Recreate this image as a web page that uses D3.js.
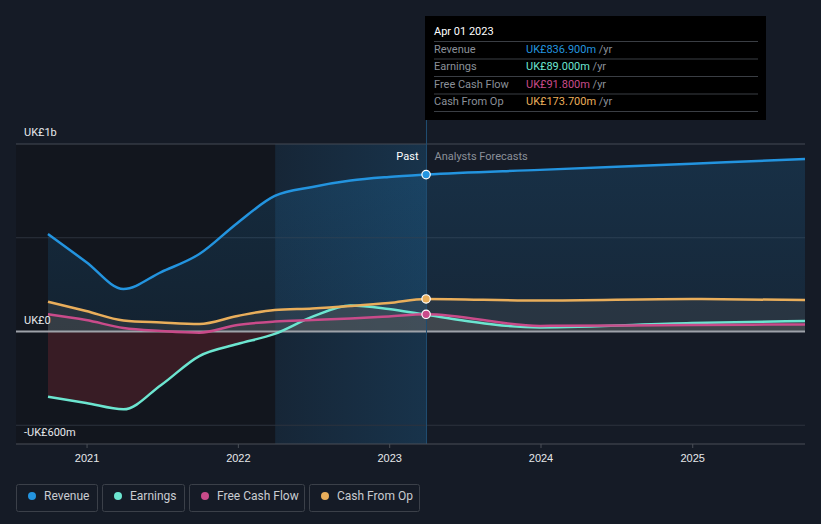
<!DOCTYPE html>
<html><head><meta charset="utf-8">
<script src="https://cdn.jsdelivr.net/npm/d3@7"></script>
<style>
html,body{margin:0;padding:0;background:#151b26;}
svg{display:block;font-family:Roboto,"Open Sans",sans-serif;}
</style></head>
<body><svg id="c" width="821" height="524"></svg>
<script>
// ---- data ----
const pastDates = ["2020-09-30","2020-12-31","2021-03-31","2021-06-30","2021-09-30","2021-12-31","2022-03-31","2022-06-30","2022-09-30","2022-12-31","2023-03-31"];
const forecastDates = ["2023-12-31","2024-12-31","2025-09-30"];
const revenuePast = [520,371,227,317,413,579,723,771,805,824,836.9];
const revenueFc = [862,895,920];
const earningsPast = [-348,-381,-415,-285,-131,-67,-13,79,139,120,89];
const earningsFc = [22,45,56];
const fcfPast = [92,61,19,3,-6,35,53,61,69,80,91.8];
const fcfFc = [30,35,38];
const cfoPast = [159,109,59,48,40,83,115,123,136,152,173.7];
const cfoFc = [165,173,168];
const yTickLabels = ["UK£1b","UK£0","-UK£600m"];
const yTickValues = [1000,0,-600];
const gridValues = [1000,500,0,-500];
const xTickYears = [2021,2022,2023,2024,2025];
const seriesNames = ["Revenue","Earnings","Free Cash Flow","Cash From Op"];
const seriesColors = ["#2394df","#6ce5d0","#c94b8a","#e9ae5b"];
const tooltipDate = "Apr 01 2023";
const tooltipValues = ["UK£836.900m","UK£89.000m","UK£91.800m","UK£173.700m"];

const parse = d3.timeParse("%Y-%m-%d");
const dates = pastDates.concat(forecastDates).map(parse);
const series = [revenuePast.concat(revenueFc), earningsPast.concat(earningsFc), fcfPast.concat(fcfFc), cfoPast.concat(cfoFc)];
const presentDate = parse("2023-04-01");
const bandStart = parse("2022-04-01");

const svg = d3.select("#c");
const x = d3.scaleTime().domain([parse("2020-09-30"), parse("2025-09-30")]).range([48,805]);
const y = d3.scaleLinear().domain([-600,1000]).range([444,144]);
const L = 16, R = 805;
const defs = svg.append("defs");

// background regions
svg.append("rect").attr("x",L).attr("y",y(1000)).attr("width",x(bandStart)-L).attr("height",y(-600)-y(1000)).attr("fill","#12161e");
const bg = defs.append("linearGradient").attr("id","band").attr("x1",0).attr("x2",1).attr("y1",0).attr("y2",0);
bg.append("stop").attr("offset","0%").attr("stop-color","#2394df").attr("stop-opacity",0.09);
bg.append("stop").attr("offset","100%").attr("stop-color","#2394df").attr("stop-opacity",0.2);
svg.append("rect").attr("x",x(bandStart)).attr("y",y(1000)).attr("width",x(presentDate)-x(bandStart)).attr("height",y(-600)-y(1000)).attr("fill","url(#band)");

// gridlines
gridValues.forEach(v=>{
  if(v===0) return;
  svg.append("line").attr("x1",L).attr("x2",R).attr("y1",y(v)).attr("y2",y(v))
    .attr("stroke", v===1000 ? "#444a54" : "#2c333e").attr("stroke-width",1);
});

// clip paths above/below zero
defs.append("clipPath").attr("id","above").append("rect").attr("x",0).attr("y",0).attr("width",821).attr("height",y(0));
defs.append("clipPath").attr("id","below").append("rect").attr("x",0).attr("y",y(0)).attr("width",821).attr("height",200);

const idx = d3.range(dates.length);
const curve = d3.curveMonotoneX;
const area = vals => d3.area().curve(curve).x(i=>x(dates[i])).y0(y(0)).y1(i=>y(vals[i]))(idx);
const line = vals => d3.line().curve(curve).x(i=>x(dates[i])).y(i=>y(vals[i]))(idx);

// revenue area
const rg = defs.append("linearGradient").attr("id","revg").attr("x1",0).attr("x2",0).attr("y1",0).attr("y2",1);
rg.append("stop").attr("offset","0%").attr("stop-color","#2394df").attr("stop-opacity",0.17);
rg.append("stop").attr("offset","100%").attr("stop-color","#2394df").attr("stop-opacity",0.10);
svg.append("path").attr("d",area(series[0])).attr("fill","url(#revg)").attr("clip-path","url(#above)");

// other areas
[3,2,1].forEach(k=>{
  svg.append("path").attr("d",area(series[k])).attr("fill","#5a5a5a").attr("fill-opacity",0.28).attr("clip-path","url(#above)");
  svg.append("path").attr("d",area(series[k])).attr("fill","#c0303f").attr("fill-opacity",0.22).attr("clip-path","url(#below)");
});

// zero line
svg.append("line").attr("x1",L).attr("x2",R).attr("y1",y(0)).attr("y2",y(0)).attr("stroke","#9ea2a9").attr("stroke-width",2);

// present vertical line
svg.append("line").attr("x1",x(presentDate)).attr("x2",x(presentDate)).attr("y1",120).attr("y2",y(-600)).attr("stroke","#1f4c70").attr("stroke-width",1);

// lines
[1,2,3,0].forEach(k=>{
  svg.append("path").attr("d",line(series[k])).attr("fill","none").attr("stroke",seriesColors[k]).attr("stroke-width",2.5);
});

// markers at present
[0,3,2].forEach(k=>{
  svg.append("circle").attr("cx",x(dates[10])).attr("cy",y(series[k][10])).attr("r",4.2)
    .attr("fill",seriesColors[k]).attr("stroke","#ffffff").attr("stroke-width",1.2);
});

// x axis
svg.append("line").attr("x1",L).attr("x2",R).attr("y1",y(-600)).attr("y2",y(-600)).attr("stroke","#4a4f57").attr("stroke-width",1);
const xAxis = d3.axisBottom(x).tickValues(xTickYears.map(yr=>new Date(yr,0,1))).tickFormat(d3.timeFormat("%Y")).tickSize(4).tickPadding(6);
const gx = svg.append("g").attr("transform",`translate(0,${y(-600)})`).call(xAxis);
gx.select(".domain").remove();
gx.selectAll(".tick line").attr("stroke","#4a4f57");
gx.selectAll(".tick text").attr("fill","#e6e8eb").attr("font-size",11);

// y labels
yTickValues.forEach((v,i)=>{
  svg.append("text").attr("x",24).attr("y",y(v)-8).attr("fill","#e6e8eb").attr("font-size",11).text(yTickLabels[i]);
});

// Past / Forecast labels
svg.append("text").attr("x",x(presentDate)-8).attr("y",160).attr("text-anchor","end").attr("fill","#ffffff").attr("font-size",11).text("Past");
svg.append("text").attr("x",x(presentDate)+8).attr("y",160).attr("fill","#8b9099").attr("font-size",11).text("Analysts Forecasts");

// tooltip
const tt = svg.append("g");
tt.append("rect").attr("x",425).attr("y",16).attr("width",341).attr("height",104).attr("fill","#000000");
tt.append("text").attr("x",434).attr("y",35).attr("fill","#ffffff").attr("font-size",11).text(tooltipDate);
const rowY = [53,70,88,105];
const sepY = [41.5,59,76.5,94,111.5];
sepY.forEach(sy=>tt.append("line").attr("x1",434).attr("x2",758).attr("y1",sy).attr("y2",sy).attr("stroke","#3a3e44").attr("stroke-width",1));
seriesNames.forEach((n,i)=>{
  tt.append("text").attr("x",434).attr("y",rowY[i]).attr("fill","#8b9099").attr("font-size",11).text(n);
  const t = tt.append("text").attr("x",526).attr("y",rowY[i]).attr("font-size",11);
  t.append("tspan").attr("fill",seriesColors[i]).text(tooltipValues[i]);
  t.append("tspan").attr("fill","#8b9099").text(" /yr");
});

// legend
const legX = [16,102,189,309];
const legW = [81,82,115,110];
seriesNames.forEach((n,i)=>{
  const g = svg.append("g").attr("transform",`translate(${legX[i]},484)`);
  g.append("rect").attr("x",0.5).attr("y",0.5).attr("width",legW[i]).attr("height",27).attr("rx",2).attr("fill","none").attr("stroke","#3b4049");
  g.append("circle").attr("cx",16).attr("cy",12).attr("r",4).attr("fill",seriesColors[i]);
  g.append("text").attr("x",28).attr("y",16).attr("fill","#c9ccd1").attr("font-size",12).text(n);
});
</script></body></html>
